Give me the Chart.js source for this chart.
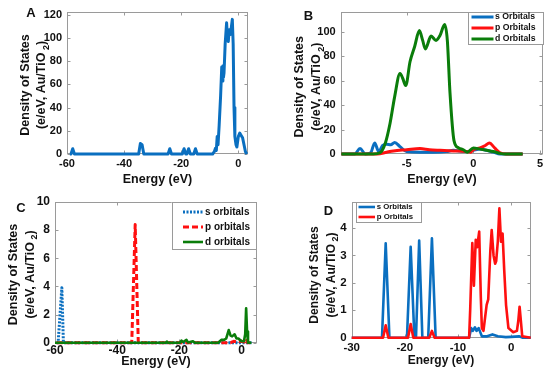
<!DOCTYPE html>
<html><head><meta charset="utf-8">
<script src="https://cdn.jsdelivr.net/npm/chart.js@4.4.1/dist/chart.umd.min.js"></script>
<style>
html,body{margin:0;padding:0;background:#fff;}
#wrap{position:relative;width:550px;height:374px;overflow:hidden;background:#fff;}
canvas{position:absolute;left:0;top:0;}
</style></head><body>
<div id="wrap">
<canvas id="cA" width="550" height="374"></canvas>
<canvas id="cB" width="550" height="374"></canvas>
<canvas id="cC" width="550" height="374"></canvas>
<canvas id="cD" width="550" height="374"></canvas>
</div>
<script>
// ---------- Panel A: total DOS ----------
const energyA = [-59, -58.6, -58, -57.4, -34.9, -34.3, -33.7, -33.1, -24.6, -24, -23.4, -19.6, -19, -18.4, -18, -17.4, -16.8, -15.6, -15, -14.4, -9, -8.4, -8, -7.7, -7.4, -7.1, -6.7, -6.2, -5.8, -5.6, -5.4, -5.2, -5, -4.6, -4.1, -3.8, -3.5, -3.2, -2.8, -2.4, -2.1, -1.8, -1.5, -1.2, -0.8, -0.5, 0, 0.5, 1, 1.5, 2, 2.5, 3];
const dosA    = [0, 0, 4.5, 0, 0, 9, 8, 0, 0, 4.5, 0, 0, 4.5, 0, 0, 4.5, 0, 0, 4.5, 0, 0, 2, 5, 3, 15, 8, 25, 50, 75, 63, 76, 66, 70, 95, 113, 100, 97, 107, 103, 110, 116, 95, 40, 15, 8, 6, 15, 18, 16, 14, 8, 2, 0];

// ---------- Panel B: Au s/p/d ----------
const energyBs = [-9.9, -8.9, -8.5, -8.1, -7.7, -7.4, -7.1, -6.8, -6.5, -6.2, -5.9, -5.5, -5, -4, -3, -2, -1.5, -1, -0.5, 0, 0.5, 1, 1.5, 2, 3.7];
const dosBs    = [0, 0, 4.5, 0, 1, 9, 2, 7, 8, 7.5, 9.5, 6, 2, 1.5, 1.5, 2, 3, 2.5, 2, 3, 4, 3, 1.5, 0, 0];
const energyBp = [-9.9, -7.2, -6.5, -6, -5, -4, -3.3, -2.5, -1.5, -0.5, -0.2, 0, 0.5, 0.9, 1.2, 1.6, 2, 2.5, 3.7];
const dosBp    = [0, 0, 1.5, 2.5, 3.5, 4.5, 3.5, 3, 2.5, 2, 1.5, 3.5, 5, 7, 9, 5, 1, 0, 0];
const energyBd = [-9.9, -7.5, -7.0, -6.6, -6.25, -5.9, -5.5, -5.3, -5.07, -4.75, -4.4, -4.05, -3.8, -3.6, -3.17, -2.8, -2.5, -2.15, -1.95, -1.75, -1.45, -1.1, -0.75, -0.45, 0, 0.5, 1, 1.5, 2, 2.4, 3.7];
const dosBd    = [0, 0, 1, 9, 25, 47, 66, 62, 56, 75.5, 88, 101, 93, 86, 96.5, 93, 97, 106, 93, 50, 11, 5, 3.5, 1.5, 5, 4, 3, 2, 0.5, 0, 0];

// ---------- Panel C: s/p/d orbitals ----------
const energyCs = [-59.5, -59, -57.8, -57.3, 3.5];
const dosCs    = [0, 0, 3.9, 0, 0];
const energyCp = [-59.5, -35.3, -34.2, -33.2, -24.4, -24, -23.6, -3.5, -2.5, -1, 0, 1, 1.5, 2, 3.5];
const dosCp    = [0, 0, 8.4, 0, 0, 0.1, 0, 0, 0.1, 0.05, 0.1, 0.05, 0.25, 0, 0];
const energyCd = [-60, -24.3, -24, -23.7, -19.8, -19.3, -18.8, -17.7, -17.2, -15.6, -15, -7.5, -6.5, -5.6, -4.9, -4.1, -3.5, -3, -2.2, -1.6, -1, 0, 0.8, 1.2, 1.5, 1.8, 2.1, 3.2];
const dosCd    = [0, 0, 0.08, 0, 0, 0.15, 0.05, 0.2, 0.02, 0.1, 0, 0, 0.2, 0.2, 0.3, 0.9, 0.5, 0.45, 0.6, 0.3, 0.3, 0.1, 0.1, 0.6, 2.45, 0.8, 0, 0];

// ---------- Panel D: s/p orbitals ----------
const energyDs = [-30, -24.3, -23.6, -22.9, -19.6, -18.9, -18.2, -17.9, -17.3, -16.7, -15.6, -14.9, -14.2, -7.9, -7.5, -7.2, -6.8, -6.5, -6.1, -5.5, -4.5, -3.5, -2.5, -1, 0, 1.5, 2.2, 3.7];
const dosDs    = [0, 0, 3.44, 0, 0, 3.32, 0, 0, 3.54, 0, 0, 3.63, 0, 0, 0.35, 0.25, 0.38, 0.25, 0.35, 0.05, 0.05, 0.12, 0.05, 0.02, 0.03, 0.05, 0, 0];
const energyDp = [-30, -24.1, -23.6, -23.1, -19.4, -18.9, -18.4, -15.4, -14.9, -14.4, -7.9, -7.7, -7.3, -7.0, -6.65, -6.4, -6.0, -5.7, -5.5, -5.2, -4.6, -4.3, -3.9, -3.65, -3.3, -3.0, -2.8, -2.5, -2.2, -1.9, -1.6, -1.3, -0.95, -0.5, 0.4, 1.1, 1.35, 1.6, 1.85, 2.1, 3.7];
const dosDp    = [0, 0, 0.45, 0, 0, 0.5, 0, 0, 0.25, 0, 0, 1.0, 3.45, 1.9, 3.57, 3.3, 3.87, 1.5, 0.35, 0.25, 1.2, 1.4, 3.2, 3.93, 3.0, 2.7, 2.8, 3.5, 4.72, 3.5, 3.8, 2.5, 1.2, 0.35, 0.2, 0.25, 0.6, 1.13, 0.6, 0.05, 0];

// ---------- Tick labels ----------
const xTicksA = [-60, -40, -20, 0];
const yTicksA = [0, 20, 40, 60, 80, 100, 120];
const xTicksB = [-5, 0, 5];
const yTicksB = [0, 20, 40, 60, 80, 100];
const xTicksC = [-60, -40, -20, 0];
const yTicksC = [0, 2, 4, 6, 8, 10];
const xTicksD = [-30, -20, -10, 0];
const yTicksD = [0, 1, 2, 3, 4];

const BLUE = '#0a6fc0', RED = '#ff1010', GREEN = '#0a7d0a';
const FONT = '"Liberation Sans", Arial, sans-serif';
const TXT = '#111';

function pts(xs, ys) { return xs.map((x, i) => ({x: x, y: ys[i]})); }
function ds(label, xs, ys, color, width, dash, order, tension) {
  return {label: label, data: pts(xs, ys), borderColor: color, borderWidth: width,
    borderDash: dash || [], order: order, tension: tension || 0, cubicInterpolationMode: tension ? 'monotone' : 'default',
    pointRadius: 0, fill: false, clip: false, borderJoinStyle: 'round', borderCapStyle: 'butt'};
}

function drawYTitle(ctx, cx1, cx2, cy, size) {
  ctx.save();
  ctx.fillStyle = TXT; ctx.textBaseline = 'middle';
  ctx.font = `bold ${size}px ${FONT}`;
  ctx.translate(cx1, cy); ctx.rotate(-Math.PI / 2);
  ctx.textAlign = 'center'; ctx.fillText('Density of States', 0, 0);
  ctx.restore();
  ctx.save();
  ctx.fillStyle = TXT; ctx.textBaseline = 'middle'; ctx.textAlign = 'left';
  ctx.translate(cx2, cy); ctx.rotate(-Math.PI / 2);
  const a = '(e/eV, Au/TiO\u2009', b = '2', c = ')';
  const big = `bold ${size}px ${FONT}`, small = `bold ${Math.round(size * 0.75)}px ${FONT}`;
  ctx.font = big; const wa = ctx.measureText(a).width, wc = ctx.measureText(c).width;
  ctx.font = small; const wb = ctx.measureText(b).width;
  const x0 = -(wa + wb + wc) / 2;
  ctx.font = big; ctx.fillText(a, x0, 0);
  ctx.font = small; ctx.fillText(b, x0 + wa, size * 0.35);
  ctx.font = big; ctx.fillText(c, x0 + wa + wb, 0);
  ctx.restore();
}

function deco(g) {
  return {
    id: 'deco',
    beforeDatasetsDraw(chart) {
      const {ctx, chartArea: a, scales: {x, y}} = chart;
      ctx.save();
      ctx.strokeStyle = '#9a9a9a'; ctx.lineWidth = 1;
      const L = Math.round(a.left) + 0.5, R = Math.round(a.right) - 0.5, T = Math.round(a.top) + 0.5, B = Math.round(a.bottom) - 0.5;
      ctx.strokeRect(L, T, R - L, B - T);
      ctx.beginPath();
      g.xticks.forEach(v => { const p = Math.round(x.getPixelForValue(v)) + 0.5; ctx.moveTo(p, B); ctx.lineTo(p, B - 3); ctx.moveTo(p, T); ctx.lineTo(p, T + 3); });
      g.yticks.forEach(v => { const p = Math.round(y.getPixelForValue(v)) + 0.5; ctx.moveTo(L, p); ctx.lineTo(L + 3, p); ctx.moveTo(R, p); ctx.lineTo(R - 3, p); });
      ctx.stroke();
      ctx.restore();
    },
    afterDraw(chart) {
      const ctx = chart.ctx;
      ctx.save();
      ctx.fillStyle = TXT;
      ctx.font = `bold 13px ${FONT}`; ctx.textAlign = 'center'; ctx.textBaseline = 'middle';
      ctx.fillText(g.letter, g.lx, g.ly);
      ctx.font = `bold ${g.tsize}px ${FONT}`;
      ctx.fillText('Energy (eV)', g.xtx, g.xty);
      ctx.restore();
      drawYTitle(ctx, g.ytx1, g.ytx2, g.yty, g.tsize);
      if (g.legend) {
        const lg = g.legend;
        ctx.save();
        ctx.fillStyle = '#fff'; ctx.fillRect(lg.x0, lg.y0, lg.x1 - lg.x0, lg.y1 - lg.y0);
        ctx.strokeStyle = '#9a9a9a'; ctx.lineWidth = 1;
        ctx.strokeRect(Math.round(lg.x0) + 0.5, Math.round(lg.y0) + 0.5, Math.round(lg.x1 - lg.x0) - 1, Math.round(lg.y1 - lg.y0) - 1);
        chart.data.datasets.slice().sort((p, q) => p.legendIndex - q.legendIndex).forEach((d, i) => {
          const yy = lg.ys[i];
          ctx.strokeStyle = d.borderColor; ctx.lineWidth = d.borderWidth; ctx.setLineDash(d.borderDash || []);
          ctx.beginPath(); ctx.moveTo(lg.sx0, yy); ctx.lineTo(lg.sx1, yy); ctx.stroke();
          ctx.setLineDash([]);
          ctx.fillStyle = TXT; ctx.font = `bold ${lg.size}px ${FONT}`; ctx.textAlign = 'left'; ctx.textBaseline = 'middle';
          ctx.fillText(d.label, lg.tx, yy);
        });
        ctx.restore();
      }
    }
  };
}

function panel(id, g) {
  const YW = 28, XH = 16;
  new Chart(document.getElementById(id), {
    type: 'line',
    data: {datasets: g.datasets},
    options: {
      responsive: false, animation: false, devicePixelRatio: 1,
      layout: {padding: {left: g.left - YW, right: 550 - g.right, top: g.top, bottom: 374 - g.bottom - XH}},
      plugins: {legend: {display: false}, tooltip: {enabled: false}},
      events: [],
      scales: {
        x: {type: 'linear', min: g.xmin, max: g.xmax,
          grid: {display: false, drawTicks: false}, border: {display: false},
          afterBuildTicks: s => { s.ticks = g.xticks.map(v => ({value: v})); },
          afterFit: s => { s.height = XH; },
          ticks: {padding: g.xpad, autoSkip: false, maxRotation: 0, color: TXT,
            font: {family: FONT, weight: 'bold', size: g.fsize}, callback: v => String(v)}},
        y: {type: 'linear', min: g.ymin, max: g.ymax,
          grid: {display: false, drawTicks: false}, border: {display: false},
          afterBuildTicks: s => { s.ticks = g.yticks.map(v => ({value: v})); },
          afterFit: s => { s.width = YW; },
          ticks: {padding: 5, autoSkip: false, color: TXT,
            font: {family: FONT, weight: 'bold', size: g.fsize}, callback: v => String(v)}}
      }
    },
    plugins: [deco(g)]
  });
}

// Panel A
panel('cA', {
  left: 67, right: 248.3, top: 5, bottom: 154,
  xmin: -60, xmax: 3.5, ymin: 0, ymax: 122.7, xticks: xTicksA, yticks: yTicksA,
  fsize: 11, tsize: 12.5, xpad: 3,
  letter: 'A', lx: 31, ly: 13.5, xtx: 157.5, xty: 180, ytx1: 26, ytx2: 42, yty: 85,
  datasets: [ds('DOS', energyA, dosA, BLUE, 3, null, 1, 0)]
});

// Panel B
const dBs = ds('s Orbitals', energyBs, dosBs, BLUE, 3, null, 3, 0.4); dBs.legendIndex = 0;
const dBp = ds('p Orbitals', energyBp, dosBp, RED, 3, null, 2, 0.4); dBp.legendIndex = 1;
const dBd = ds('d Orbitals', energyBd, dosBd, GREEN, 3, null, 1, 0.4); dBd.legendIndex = 2;
panel('cB', {
  left: 340.7, right: 543.3, top: 12.3, bottom: 154,
  xmin: -9.95, xmax: 5.25, ymin: 0, ymax: 116, xticks: xTicksB, yticks: yTicksB,
  fsize: 11, tsize: 12.5, xpad: 3,
  letter: 'B', lx: 308.5, ly: 16.5, xtx: 442, xty: 180, ytx1: 300, ytx2: 316.7, yty: 86.7,
  legend: {x0: 468, y0: 12, x1: 543.5, y1: 44.5, ys: [17, 28, 39], sx0: 471.5, sx1: 493.5, tx: 495, size: 8.7},
  datasets: [dBs, dBp, dBd]
});

// Panel C
const dCs = ds('s orbitals', energyCs, dosCs, BLUE, 3, [2, 1.5], 3, 0); dCs.legendIndex = 0;
const dCp = ds('p orbitals', energyCp, dosCp, RED, 3, [6, 3], 2, 0); dCp.legendIndex = 1;
const dCd = ds('d orbitals', energyCd, dosCd, GREEN, 2.6, null, 1, 0); dCd.legendIndex = 2;
panel('cC', {
  left: 55, right: 256.7, top: 202, bottom: 342.7,
  xmin: -60, xmax: 4.9, ymin: 0, ymax: 10, xticks: xTicksC, yticks: yTicksC,
  fsize: 12, tsize: 12.5, xpad: 1,
  letter: 'C', lx: 21, ly: 208, xtx: 156, xty: 362, ytx1: 14, ytx2: 30.5, yty: 274.5,
  legend: {x0: 171.7, y0: 202, x1: 257, y1: 249.5, ys: [212, 227, 242], sx0: 183, sx1: 203, tx: 205, size: 10},
  datasets: [dCs, dCp, dCd]
});

// Panel D
const dDs = ds('s Orbitals', energyDs, dosDs, BLUE, 2.6, null, 2, 0); dDs.legendIndex = 0;
const dDp = ds('p Orbitals', energyDp, dosDp, RED, 2.6, null, 1, 0); dDp.legendIndex = 1;
panel('cD', {
  left: 351.7, right: 531, top: 202, bottom: 337.7,
  xmin: -30, xmax: 3.75, ymin: 0, ymax: 4.95, xticks: xTicksD, yticks: yTicksD,
  fsize: 11.5, tsize: 12, xpad: 3,
  letter: 'D', lx: 328.5, ly: 211, xtx: 441, xty: 360.5, ytx1: 315, ytx2: 331.7, yty: 275,
  legend: {x0: 356, y0: 202, x1: 422, y1: 222.5, ys: [207, 217], sx0: 358.5, sx1: 375, tx: 376.7, size: 7.8},
  datasets: [dDs, dDp]
});
</script>
</body></html>
